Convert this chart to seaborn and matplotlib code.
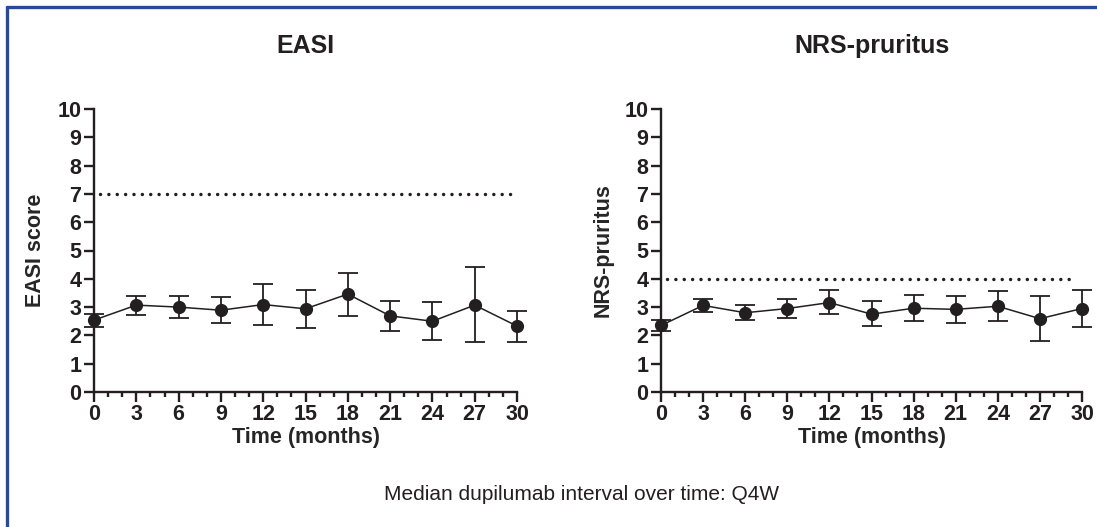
import numpy as np
import pandas as pd
import matplotlib
matplotlib.use("Agg")
import matplotlib.pyplot as plt
import seaborn as sns
from matplotlib.lines import Line2D
from matplotlib.ticker import MultipleLocator

# ─── data ────────────────────────────────────────────────────────────────────
months = [0, 3, 6, 9, 12, 15, 18, 21, 24, 27, 30]

easi_mid = [2.54, 3.07, 3.00, 2.89, 3.09, 2.94, 3.46, 2.69, 2.50, 3.07, 2.33]
easi_lo = [2.30, 2.73, 2.62, 2.43, 2.36, 2.27, 2.69, 2.16, 1.83, 1.76, 1.77]
easi_hi = [2.77, 3.40, 3.38, 3.35, 3.81, 3.62, 4.20, 3.22, 3.18, 4.42, 2.87]

nrs_mid = [2.35, 3.06, 2.80, 2.95, 3.16, 2.75, 2.96, 2.92, 3.03, 2.59, 2.95]
nrs_lo = [2.16, 2.81, 2.53, 2.61, 2.76, 2.33, 2.50, 2.44, 2.51, 1.79, 2.28]
nrs_hi = [2.54, 3.29, 3.06, 3.29, 3.59, 3.21, 3.44, 3.39, 3.57, 3.38, 3.60]

easi_cutoff = 7
nrs_cutoff = 4

panels = [
    ("EASI", "EASI score", easi_mid, easi_lo, easi_hi, easi_cutoff),
    ("NRS-pruritus", "NRS-pruritus", nrs_mid, nrs_lo, nrs_hi, nrs_cutoff),
]
footer = "Median dupilumab interval over time: Q4W"

# ─── style ───────────────────────────────────────────────────────────────────
sns.set_style("ticks")
INK = "#231f20"
plt.rcParams["font.family"] = ["Liberation Sans", "DejaVu Sans"]
plt.rcParams["text.color"] = INK

fig = plt.figure(figsize=(10.97, 5.27), dpi=100)
axes_pos = [
    [94 / 1097, 1 - 392 / 527, 423 / 1097, 283 / 527],
    [661 / 1097, 1 - 392 / 527, 421 / 1097, 283 / 527],
]

for pos, (title, ylabel, mid, lo, hi, cut) in zip(axes_pos, panels):
    ax = fig.add_axes(pos)
    df = pd.DataFrame({"month": months, "value": mid})

    # cut-off line
    ax.plot([0.45, 29.55], [cut, cut], color=INK, lw=2.5,
            linestyle=(0, (0.01, 2.4)), dash_capstyle="round")

    # error bars (asymmetric, from the picture)
    err = np.array([np.array(mid) - np.array(lo), np.array(hi) - np.array(mid)])
    ax.errorbar(months, mid, yerr=err, fmt="none", ecolor=INK,
                elinewidth=1.3, capsize=7, capthick=1.3, clip_on=False, zorder=3)

    sns.lineplot(data=df, x="month", y="value", ax=ax, color=INK, lw=1.1,
                 marker="o", markersize=9.5, markeredgewidth=0,
                 clip_on=False, zorder=4)

    ax.set_xlim(0, 30)
    ax.set_ylim(0, 10)
    ax.xaxis.set_major_locator(MultipleLocator(3))
    ax.xaxis.set_minor_locator(MultipleLocator(1))
    ax.yaxis.set_major_locator(MultipleLocator(1))
    sns.despine(ax=ax)
    for side in ("left", "bottom"):
        ax.spines[side].set_linewidth(1.7)
        ax.spines[side].set_color(INK)
    ax.tick_params(axis="both", which="major", length=7, width=1.7,
                   color=INK, labelsize=15.5, labelcolor=INK, pad=2)
    ax.tick_params(axis="x", which="minor", length=3.5, width=1.7, color=INK)
    for lab in ax.get_xticklabels() + ax.get_yticklabels():
        lab.set_fontweight("bold")

    ax.set_xlabel("Time (months)", fontsize=15.5, fontweight="bold", labelpad=1)
    ax.set_ylabel(ylabel, fontsize=15.5, fontweight="bold", labelpad=8)
    ax.set_title(title, fontsize=18, fontweight="bold", pad=40)

fig.text(582 / 1097, 1 - 494 / 527, footer, ha="center", va="center",
         fontsize=15, color=INK)

# blue frame (top and left edges only)
frame = "#264b9b"
fig.add_artist(Line2D([6.5 / 1097, 1], [1 - 6.5 / 527, 1 - 6.5 / 527],
                      transform=fig.transFigure, color=frame, lw=2.4))
fig.add_artist(Line2D([7.3 / 1097, 7.3 / 1097], [0, 1 - 6.5 / 527],
                      transform=fig.transFigure, color=frame, lw=2.4))

fig.savefig("out.png", dpi=100, facecolor="white")
